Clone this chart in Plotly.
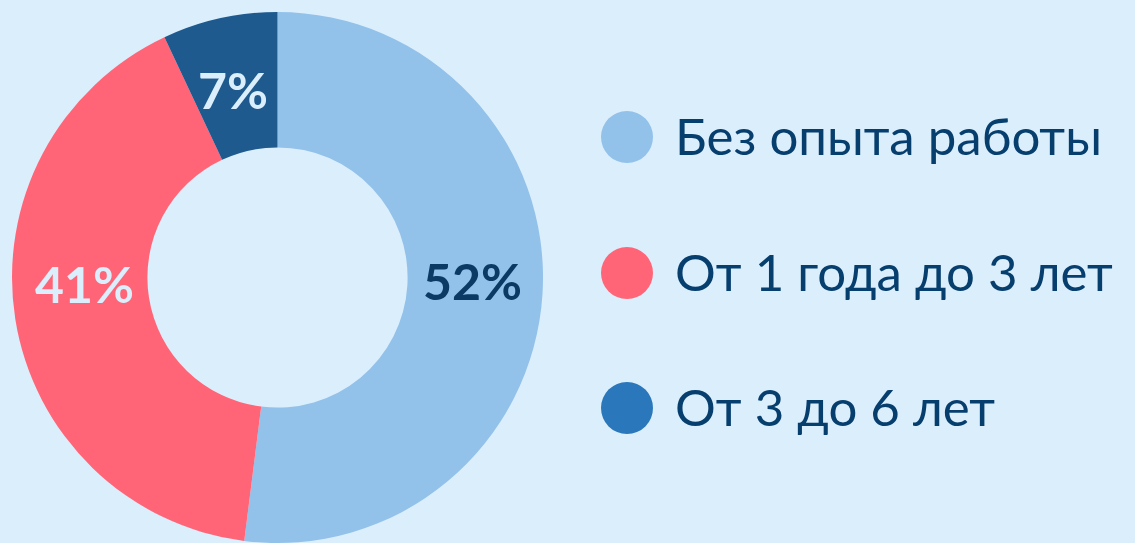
import plotly.graph_objects as go

categories = ["Без опыта работы", "От 1 года до 3 лет", "От 3 до 6 лет"]
values = [52, 41, 7]
slice_colors = ["#92c1ea", "#ff6577", "#1e5a8e"]
legend_colors = ["#92c1ea", "#ff6577", "#2a77bb"]
label_colors = ["#0b3a64", "#dbeefc", "#dbeefc"]

W, H = 1135, 543
ML, MT = 12, 12
BG = "#dbeefc"
NAVY = "#063e6e"
FONT = "Lato"

# label placement (pixel positions of value labels, layout only)
label_px = [(472, 281), (84, 284), (233, 90)]
legend_y = [137, 273, 408]


def px_x(x):
    return (x - ML) / (W - ML)


def px_y(y):
    return 1 - (y - MT) / (H - MT)


fig = go.Figure()
fig.add_trace(go.Pie(
    labels=categories,
    values=values,
    hole=0.49,
    sort=False,
    direction="clockwise",
    rotation=0,
    marker=dict(colors=slice_colors, line=dict(width=0)),
    textinfo="none",
    showlegend=False,
    domain=dict(x=[0, 531 / (W - ML)], y=[0, 1]),
))

for v, col, (lx, ly) in zip(values, label_colors, label_px):
    fig.add_annotation(x=px_x(lx), y=px_y(ly), xref="paper", yref="paper",
                       text=f"{v}%", showarrow=False,
                       xanchor="center", yanchor="middle",
                       font=dict(family=FONT, size=50, color=col, weight="bold"))

# manual legend
for cat, col, y in zip(categories, legend_colors, legend_y):
    fig.add_shape(type="circle", xref="paper", yref="paper",
                  x0=px_x(601), x1=px_x(653),
                  y0=px_y(y + 26), y1=px_y(y - 26),
                  fillcolor=col, line=dict(width=0))
    fig.add_annotation(x=px_x(673), y=px_y(y - 2),
                       xref="paper", yref="paper", text=cat, showarrow=False,
                       xanchor="left", yanchor="middle",
                       font=dict(family=FONT, size=51, color=NAVY))

fig.update_layout(
    width=W, height=H,
    margin=dict(l=ML, r=0, t=MT, b=0),
    paper_bgcolor=BG, plot_bgcolor=BG,
)
fig.write_html("out.html")
